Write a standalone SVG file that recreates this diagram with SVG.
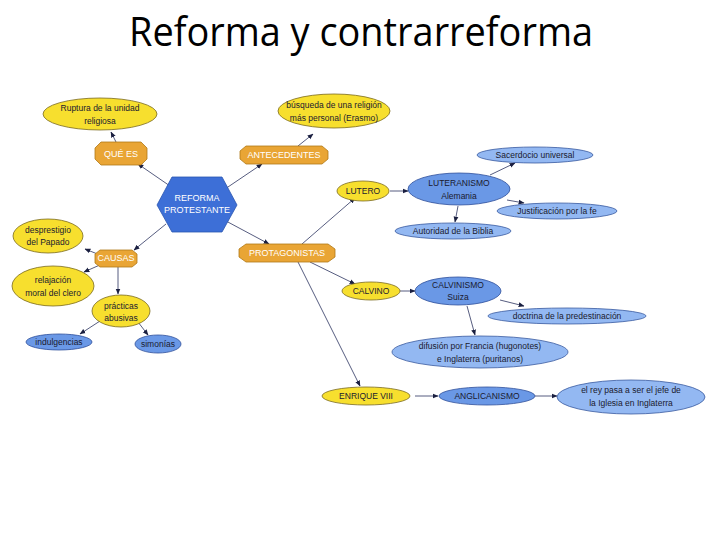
<svg xmlns="http://www.w3.org/2000/svg" width="720" height="540" viewBox="0 0 720 540">
<style>
.t{font-family:"Liberation Sans",Arial,sans-serif;font-size:8.5px;fill:#1a1a2e;text-anchor:middle}
.w{font-family:"Liberation Sans",Arial,sans-serif;font-size:9px;fill:#ffffff;text-anchor:middle}
.y{fill:#F7DF2E;stroke:#7a6a20;stroke-width:0.8}
.lb{fill:#93B8F2;stroke:#3a5aa0;stroke-width:0.8}
.mb{fill:#6A98E6;stroke:#2f4f9a;stroke-width:0.8}
.o{fill:#E9A535;stroke:#b07818;stroke-width:0.8}
.c line{stroke:#2c3360;stroke-width:0.8;marker-end:url(#a)}
</style>
<defs>
<marker id="a" viewBox="0 0 10 10" refX="9" refY="5" markerWidth="6" markerHeight="6" orient="auto" markerUnits="userSpaceOnUse">
<path d="M0,1 L10,5 L0,9 z" fill="#1a1f40"/>
</marker>
</defs>
<rect width="720" height="540" fill="#ffffff"/>
<text x="361" y="46" font-family="'Open Sans','Liberation Sans',sans-serif" font-size="40" fill="#000" text-anchor="middle" textLength="464" lengthAdjust="spacingAndGlyphs">Reforma y contrarreforma</text>

<g class="c" id="connectors">
<line x1="170" y1="186" x2="138" y2="164"/>
<line x1="116" y1="142" x2="111" y2="132"/>
<line x1="225" y1="189" x2="262" y2="164"/>
<line x1="298" y1="146" x2="313" y2="134"/>
<line x1="166" y1="224" x2="134" y2="250"/>
<line x1="100" y1="255" x2="85" y2="249"/>
<line x1="102" y1="264" x2="84" y2="272"/>
<line x1="118" y1="267" x2="118" y2="294"/>
<line x1="100" y1="321" x2="80" y2="334"/>
<line x1="138" y1="322" x2="148" y2="335"/>
<line x1="226" y1="221" x2="269" y2="244"/>
<line x1="302" y1="244" x2="355" y2="198"/>
<line x1="310" y1="262" x2="355" y2="284"/>
<line x1="298" y1="262" x2="360" y2="386"/>
<line x1="390" y1="191" x2="408" y2="191"/>
<line x1="490" y1="175" x2="515" y2="163"/>
<line x1="507" y1="200" x2="524" y2="203"/>
<line x1="458" y1="206" x2="455" y2="222"/>
<line x1="400" y1="291" x2="415" y2="291"/>
<line x1="500" y1="300" x2="524" y2="306"/>
<line x1="467" y1="306" x2="475" y2="335"/>
<line x1="415" y1="396" x2="438" y2="396"/>
<line x1="535" y1="396" x2="557" y2="396"/>
</g>

<g id="ruptura"><ellipse class="y" cx="100" cy="114" rx="57" ry="16"/><text class="t" x="100" y="111">Ruptura de la unidad</text><text class="t" x="100" y="124">religiosa</text></g>
<g id="quees"><polygon class="o" points="101,142 141,142 147,148 147,159 141,165 101,165 95,159 95,148"/><text class="w" x="121" y="157">QUÉ ES</text></g>
<g id="busqueda"><ellipse class="y" cx="334" cy="111" rx="56" ry="17"/><text class="t" x="334" y="108">búsqueda de una religión</text><text class="t" x="334" y="121">más personal (Erasmo)</text></g>
<g id="antecedentes"><polygon class="o" points="246,146 322,146 328,151 328,159 322,164 246,164 240,159 240,151"/><text class="w" x="284" y="158">ANTECEDENTES</text></g>
<g id="reforma"><polygon points="172,177 222,177 237,205 222,232 172,232 157,205" fill="#3D6FD7" stroke="#2a55b0" stroke-width="0.8"/><text class="w" x="197" y="201">REFORMA</text><text class="w" x="197" y="213">PROTESTANTE</text></g>
<g id="protagonistas"><polygon class="o" points="246,244 328,244 335,249 335,257 328,262 246,262 239,257 239,249"/><text class="w" x="287" y="256">PROTAGONISTAS</text></g>
<g id="desprestigio"><ellipse class="y" cx="48" cy="236" rx="35" ry="17"/><text class="t" x="48" y="233">desprestigio</text><text class="t" x="48" y="245">del Papado</text></g>
<g id="causas"><polygon class="o" points="100,250 132,250 137,254 137,263 132,267 100,267 95,263 95,254"/><text class="w" x="116" y="261">CAUSAS</text></g>
<g id="relajacion"><ellipse class="y" cx="53" cy="286" rx="41" ry="20"/><text class="t" x="53" y="283">relajación</text><text class="t" x="53" y="296">moral del clero</text></g>
<g id="practicas"><ellipse class="y" cx="121" cy="311" rx="29" ry="16"/><text class="t" x="121" y="309">prácticas</text><text class="t" x="121" y="321">abusivas</text></g>
<g id="indulgencias"><ellipse class="mb" cx="59" cy="342" rx="33" ry="8"/><text class="t" x="59" y="345">indulgencias</text></g>
<g id="simonias"><ellipse class="mb" cx="158" cy="344" rx="23" ry="9"/><text class="t" x="158" y="347">simonías</text></g>
<g id="sacerdocio"><ellipse class="lb" cx="535" cy="155" rx="58" ry="8"/><text class="t" x="535" y="158">Sacerdocio universal</text></g>
<g id="lutero"><ellipse class="y" cx="363" cy="191" rx="26" ry="10"/><text class="t" x="363" y="194">LUTERO</text></g>
<g id="luteranismo"><ellipse class="mb" cx="459" cy="189" rx="51" ry="16"/><text class="t" x="459" y="186">LUTERANISMO</text><text class="t" x="459" y="199">Alemania</text></g>
<g id="justificacion"><ellipse class="lb" cx="557" cy="211" rx="60" ry="8"/><text class="t" x="557" y="214">Justificación por la fe</text></g>
<g id="autoridad"><ellipse class="lb" cx="453" cy="231" rx="58" ry="8"/><text class="t" x="453" y="234">Autoridad de la Biblia</text></g>
<g id="calvino"><ellipse class="y" cx="371" cy="291" rx="29" ry="9"/><text class="t" x="371" y="294">CALVINO</text></g>
<g id="calvinismo"><ellipse class="mb" cx="458" cy="291" rx="43" ry="14"/><text class="t" x="458" y="288">CALVINISMO</text><text class="t" x="458" y="300">Suiza</text></g>
<g id="doctrina"><ellipse class="lb" cx="567" cy="316" rx="79" ry="8"/><text class="t" x="567" y="319">doctrina de la predestinación</text></g>
<g id="difusion"><ellipse class="lb" cx="480" cy="352" rx="88" ry="16"/><text class="t" x="480" y="349">difusión por Francia (hugonotes)</text><text class="t" x="480" y="362">e Inglaterra (puritanos)</text></g>
<g id="enrique"><ellipse class="y" cx="366" cy="396" rx="44" ry="9"/><text class="t" x="366" y="399">ENRIQUE VIII</text></g>
<g id="anglicanismo"><ellipse class="mb" cx="487" cy="396" rx="48" ry="9"/><text class="t" x="487" y="399">ANGLICANISMO</text></g>
<g id="rey"><ellipse class="lb" cx="631" cy="397" rx="74" ry="17"/><text class="t" x="631" y="393">el rey pasa a ser el jefe de</text><text class="t" x="631" y="406">la Iglesia en Inglaterra</text></g>
</svg>
